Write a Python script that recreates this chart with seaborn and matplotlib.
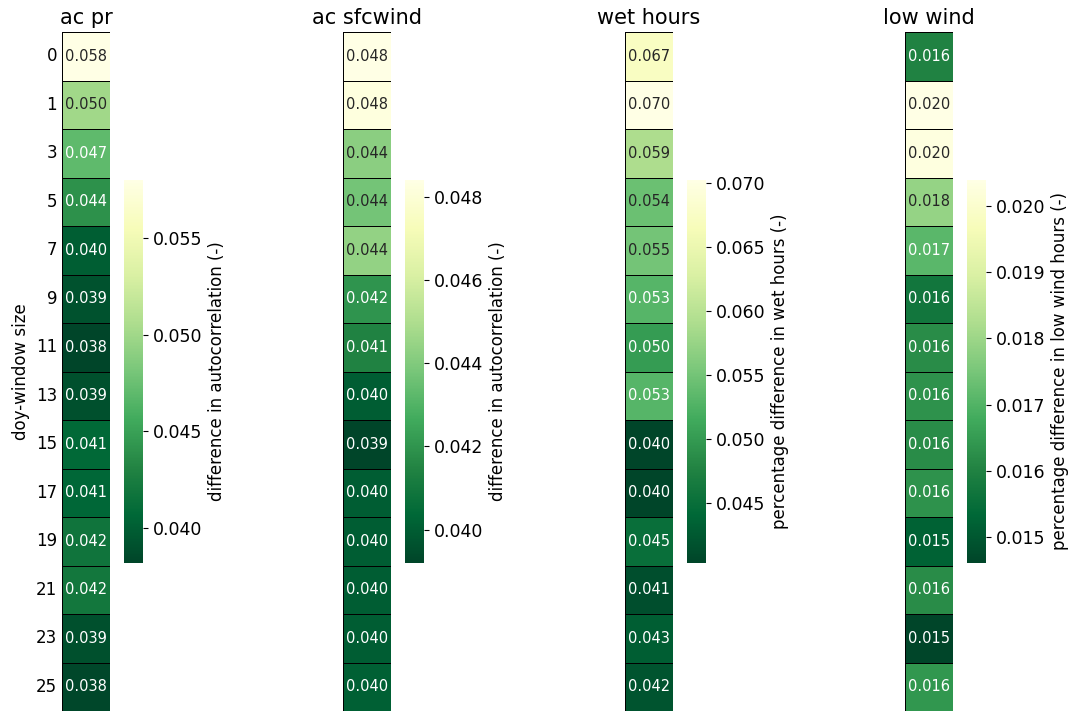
import numpy as np
import pandas as pd
import matplotlib
matplotlib.use("Agg")
import matplotlib.pyplot as plt
from matplotlib.ticker import MultipleLocator
import seaborn as sns

# doy-window sizes (rows)
windows = [0, 1, 3, 5, 7, 9, 11, 13, 15, 17, 19, 21, 23, 25]

# values per variable
ac_pr = [0.0580, 0.0500, 0.0470, 0.0440, 0.0400, 0.0392, 0.0382, 0.0390,
         0.0408, 0.0406, 0.0418, 0.0420, 0.0390, 0.0384]
ac_sfcwind = [0.0484, 0.0482, 0.0442, 0.0437, 0.0444, 0.0420, 0.0414, 0.0400,
              0.0392, 0.0400, 0.0400, 0.0400, 0.0400, 0.0401]
wet_hours = [0.0672, 0.0702, 0.0590, 0.0544, 0.0550, 0.0530, 0.0500, 0.0530,
             0.0404, 0.0403, 0.0450, 0.0413, 0.0430, 0.0420]
low_wind = [0.0160, 0.0204, 0.0203, 0.0179, 0.0171, 0.0157, 0.0162, 0.0163,
            0.0162, 0.0163, 0.0152, 0.0162, 0.0146, 0.0164]

titles = ["ac pr", "ac sfcwind", "wet hours", "low wind"]
cbar_labels = ["difference in autocorrelation (-)",
               "difference in autocorrelation (-)",
               "percentage difference in wet hours (-)",
               "percentage difference in low wind hours (-)"]
series = [ac_pr, ac_sfcwind, wet_hours, low_wind]
cbar_steps = [0.005, 0.002, 0.005, 0.001]

W, H = 1075, 711
fig = plt.figure(figsize=(W / 100, H / 100), dpi=100)

lefts = [62, 343, 625, 905]
for i, (vals, title, clab) in enumerate(zip(series, titles, cbar_labels)):
    x0 = lefts[i]
    ax = fig.add_axes([x0 / W, 0.0, 48 / W, 679 / H])
    cax = fig.add_axes([(x0 + 62) / W, (H - 563) / H, 19 / W, 383 / H])
    df = pd.DataFrame({title: vals}, index=windows)
    sns.heatmap(df, ax=ax, cbar_ax=cax, cmap="YlGn_r", annot=True, fmt=".3f",
                annot_kws={"fontsize": 10.5}, linewidths=0.7, linecolor="black",
                xticklabels=False, yticklabels=(i == 0))
    ax.set_title(title, fontsize=15)
    ax.tick_params(axis="y", length=0, labelsize=12, rotation=0)
    if i == 0:
        ax.set_ylabel("doy-window size", fontsize=12)
    cax.yaxis.set_major_locator(MultipleLocator(cbar_steps[i]))
    cax.yaxis.set_major_formatter(plt.FormatStrFormatter("%.3f"))
    cax.tick_params(labelsize=12.5)
    cax.set_ylabel(clab, fontsize=12)

fig.savefig("out.png", dpi=100)
